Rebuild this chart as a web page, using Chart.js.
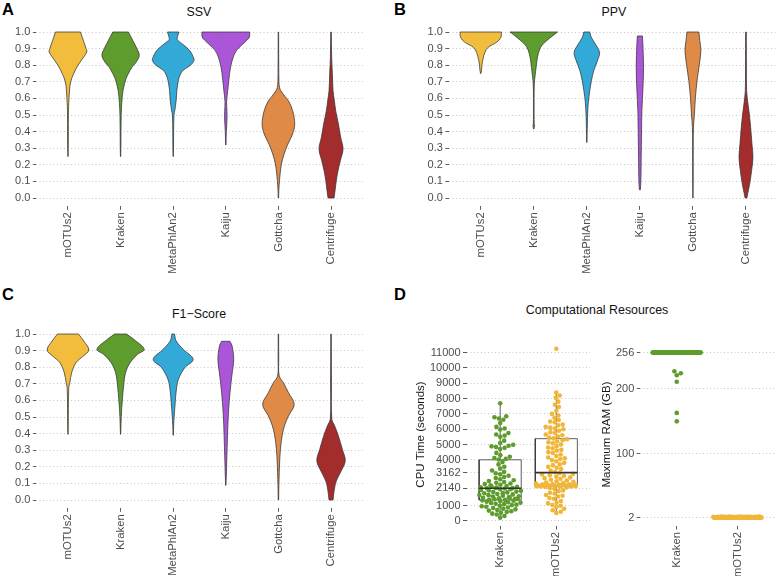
<!DOCTYPE html>
<html lang="en">
<head>
<meta charset="UTF-8" />
<title>Profiler benchmark</title>
<script src="https://cdn.jsdelivr.net/npm/chart.js"></script>
<style>
  body { margin: 0; background: #fff; font-family: "Liberation Sans", Arial, sans-serif; }
  #page { position: relative; width: 778px; height: 576px; overflow: hidden; }
  canvas { position: absolute; }
  .tag { position: absolute; font-weight: bold; font-size: 16.5px; line-height: 1; color: #000; }
  .ttl { position: absolute; font-size: 12.4px; line-height: 1; text-align: center; width: 240px; color: #111; }
</style>
</head>
<body>
<div id="page">
  <div class="tag" style="left:2px;top:1px">A</div>
  <div class="tag" style="left:394px;top:1px">B</div>
  <div class="tag" style="left:2px;top:286px">C</div>
  <div class="tag" style="left:394px;top:286px">D</div>

  <div class="ttl" style="left:79px;top:6px">SSV</div>
  <div class="ttl" style="left:494px;top:6px">PPV</div>
  <div class="ttl" style="left:79px;top:308px">F1−Score</div>
  <div class="ttl" style="left:477px;top:304px">Computational Resources</div>

  <canvas id="ssvChart" width="366" height="270" style="left:0;top:20px"></canvas>
  <canvas id="ppvChart" width="370" height="270" style="left:408px;top:20px"></canvas>
  <canvas id="f1Chart" width="366" height="254" style="left:0;top:322px"></canvas>
  <canvas id="cpuChart" width="180" height="238" style="left:414px;top:338px"></canvas>
  <canvas id="ramChart" width="178" height="238" style="left:600px;top:338px"></canvas>
</div>

<script>
  // ---- data ----
  const methods = ['mOTUs2', 'Kraken', 'MetaPhlAn2', 'Kaiju', 'Gottcha', 'Centrifuge'];
  const methodColors = ['#F2BD3D', '#5E9C2E', '#33A9D8', '#AB56D9', '#E08A48', '#A32D2D'];
  const scoreTicks = [0, 0.1, 0.2, 0.3, 0.4, 0.5, 0.6, 0.7, 0.8, 0.9, 1.0];

  // violin outlines: [score, half width of the density] from top to bottom
  const ssvProfiles = [
    [[1.0, 0.238], [0.95, 0.29], [0.90, 0.345], [0.88, 0.358], [0.85, 0.30], [0.80, 0.19], [0.75, 0.11], [0.70, 0.05], [0.65, 0.03], [0.60, 0.02], [0.55, 0.012], [0.50, 0.008], [0.40, 0.008], [0.30, 0.006], [0.25, 0.003]],
    [[1.0, 0.149], [0.95, 0.23], [0.90, 0.31], [0.86, 0.355], [0.82, 0.30], [0.79, 0.22], [0.75, 0.15], [0.72, 0.105], [0.65, 0.048], [0.57, 0.022], [0.50, 0.012], [0.40, 0.008], [0.30, 0.006], [0.25, 0.003]],
    [[1.0, 0.108], [0.975, 0.085], [0.955, 0.076], [0.93, 0.165], [0.89, 0.31], [0.85, 0.38], [0.83, 0.396], [0.80, 0.33], [0.77, 0.19], [0.74, 0.13], [0.71, 0.10], [0.65, 0.07], [0.59, 0.057], [0.53, 0.032], [0.50, 0.015], [0.40, 0.008], [0.30, 0.006], [0.25, 0.003]],
    [[1.0, 0.453], [0.97, 0.45], [0.95, 0.40], [0.92, 0.30], [0.89, 0.206], [0.85, 0.143], [0.79, 0.092], [0.71, 0.057], [0.65, 0.038], [0.58, 0.015], [0.52, 0.022], [0.47, 0.022], [0.40, 0.01], [0.32, 0.004]],
    [[1.0, 0.004], [0.80, 0.006], [0.70, 0.01], [0.667, 0.02], [0.647, 0.044], [0.61, 0.13], [0.586, 0.19], [0.526, 0.27], [0.446, 0.31], [0.386, 0.27], [0.325, 0.18], [0.265, 0.108], [0.205, 0.057], [0.145, 0.032], [0.104, 0.02], [0.05, 0.008], [0.0, 0.004]],
    [[1.0, 0.005], [0.85, 0.012], [0.75, 0.025], [0.647, 0.038], [0.586, 0.063], [0.526, 0.089], [0.446, 0.14], [0.365, 0.184], [0.295, 0.228], [0.225, 0.177], [0.165, 0.133], [0.104, 0.10], [0.044, 0.076], [0.0, 0.057]]
  ];
  const ppvProfiles = [
    [[1.0, 0.39], [0.968, 0.38], [0.938, 0.30], [0.908, 0.14], [0.877, 0.078], [0.847, 0.05], [0.807, 0.025], [0.77, 0.015], [0.75, 0.004]],
    [[1.0, 0.447], [0.978, 0.36], [0.948, 0.244], [0.908, 0.13], [0.847, 0.069], [0.787, 0.044], [0.737, 0.025], [0.687, 0.01], [0.60, 0.006], [0.50, 0.006], [0.446, 0.008], [0.436, 0.015], [0.416, 0.004]],
    [[1.0, 0.056], [0.968, 0.084], [0.928, 0.16], [0.877, 0.24], [0.827, 0.20], [0.767, 0.13], [0.707, 0.087], [0.647, 0.056], [0.576, 0.028], [0.506, 0.015], [0.42, 0.008], [0.335, 0.003]],
    [[0.976, 0.047], [0.928, 0.056], [0.787, 0.069], [0.647, 0.056], [0.526, 0.038], [0.386, 0.031], [0.245, 0.025], [0.104, 0.019], [0.05, 0.01]],
    [[1.0, 0.113], [0.948, 0.13], [0.888, 0.15], [0.807, 0.122], [0.707, 0.078], [0.606, 0.047], [0.506, 0.028], [0.426, 0.01], [0.30, 0.006], [0.10, 0.005], [0.0, 0.003]],
    [[1.0, 0.006], [0.80, 0.008], [0.647, 0.012], [0.566, 0.038], [0.506, 0.063], [0.426, 0.088], [0.325, 0.113], [0.245, 0.131], [0.165, 0.106], [0.084, 0.069], [0.024, 0.031], [0.0, 0.016]]
  ];
  const f1Profiles = [
    [[1.0, 0.2], [0.958, 0.30], [0.904, 0.396], [0.867, 0.29], [0.827, 0.152], [0.767, 0.07], [0.707, 0.035], [0.677, 0.015], [0.55, 0.008], [0.45, 0.006], [0.396, 0.003]],
    [[1.0, 0.11], [0.968, 0.25], [0.908, 0.45], [0.877, 0.32], [0.827, 0.18], [0.767, 0.095], [0.687, 0.057], [0.606, 0.035], [0.546, 0.02], [0.46, 0.008], [0.396, 0.003]],
    [[1.0, 0.025], [0.958, 0.057], [0.908, 0.19], [0.847, 0.38], [0.797, 0.22], [0.727, 0.10], [0.657, 0.057], [0.586, 0.038], [0.506, 0.019], [0.45, 0.008], [0.39, 0.003]],
    [[0.956, 0.08], [0.928, 0.12], [0.847, 0.15], [0.747, 0.114], [0.647, 0.08], [0.526, 0.05], [0.386, 0.032], [0.245, 0.019], [0.15, 0.01], [0.088, 0.003]],
    [[1.0, 0.004], [0.85, 0.006], [0.747, 0.015], [0.707, 0.095], [0.647, 0.19], [0.576, 0.30], [0.506, 0.19], [0.446, 0.114], [0.386, 0.07], [0.305, 0.038], [0.205, 0.02], [0.124, 0.012], [0.05, 0.006], [0.0, 0.004]],
    [[1.0, 0.004], [0.70, 0.008], [0.486, 0.015], [0.446, 0.07], [0.386, 0.14], [0.305, 0.215], [0.235, 0.27], [0.165, 0.177], [0.114, 0.10], [0.064, 0.063], [0.0, 0.038]]
  ];

  // computational resources
  const resourceTools = ['Kraken', 'mOTUs2'];
  const resourceColors = ['#5E9C2E', '#F0B63A'];
  const cpuTicks = [0, 1000, 2140, 3162, 4000, 5000, 6000, 7000, 8000, 9000, 10000, 11000];
  const cpuKraken = [
    7690, 6850, 6780, 6700, 6620, 6400, 6150, 6050, 5980, 5750, 5650, 5580, 5500, 5250, 5100, 4980, 4920, 4880, 4830, 4780, 4700, 4450, 4300, 4200, 4120, 4060, 4020,
    3850, 3700, 3550, 3420, 3300, 3210, 3120, 3050, 2960, 2880, 2810, 2730, 2660, 2610, 2550, 2500, 2450, 2410, 2370, 2330, 2290, 2260, 2230, 2200, 2180, 2160, 2150, 2140,
    2120, 2080, 2070, 2020, 1990, 1980, 1920, 1900, 1870, 1820, 1810, 1760, 1740, 1700, 1690, 1650, 1610, 1600, 1570, 1520, 1510, 1480, 1450, 1440, 1420, 1390, 1380,
    1350, 1320, 1300, 1260, 1230, 1200, 1180, 1130, 1100, 1070, 1040, 990, 960, 930, 880, 850, 800, 760, 720, 680, 640, 590, 540, 480, 420, 330, 220
  ];
  const cpuMotus = [
    11260, 8390, 8200, 8050, 7800, 7600, 7450, 7200, 7000, 6900, 6750, 6600, 6500, 6450, 6300, 6250, 6150, 6100, 6050, 6000, 5900, 5800, 5750, 5650, 5600, 5520, 5450, 5400,
    5350, 5280, 5200, 5150, 5080, 5000, 4900, 4800, 4750, 4650, 4600, 4500, 4450, 4350, 4250, 4150, 4100, 4050, 3980, 3900, 3800, 3700, 3650, 3550, 3480, 3400, 3300, 3200,
    3120, 3080, 3050, 2990, 2950, 2900, 2850, 2800, 2760, 2700, 2650, 2600, 2560, 2520, 2480, 2450, 2420, 2400, 2380, 2360, 2350, 2340, 2330, 2320, 2310, 2300, 2300, 2295,
    2280, 2270, 2260, 2250, 2240, 2230, 2200, 2150, 2100, 2000, 1950, 1850, 1800, 1700, 1650, 1600, 1500, 1450, 1300, 1200, 1150, 1050, 1000, 900, 800, 700, 600, 520
  ];
  const cpuQ1 = [1370, 2290];
  const cpuMedian = [2140, 3160];
  const cpuQ3 = [4000, 5380];
  const cpuLow = [220, 520];
  const cpuHigh = [7690, 8390];

  const ramTicks = [2, 100, 200, 256];
  const ramKrakenValues = [256, 227, 224, 221, 211, 163, 150];
  const ramKrakenCounts = [103, 1, 1, 1, 1, 1, 1];
  const ramMotusValues = [2, 3, 3.5];
  const ramMotusCounts = [92, 14, 4];

  // ---- common styling ----
  Chart.defaults.font.family = '"Liberation Sans", Arial, sans-serif';
  Chart.defaults.animation = false;

  const tickColor = '#4d4d4d';

  function yAxis(min, max, ticks, fmt, width, title) {
    return {
      type: 'linear', min: min, max: max,
      afterBuildTicks: s => { s.ticks = ticks.map(v => ({ value: v })); },
      afterFit: s => { s.width = width; s.paddingTop = 0; s.paddingBottom = 0; },
      ticks: { callback: fmt, color: tickColor, font: { size: 11 }, padding: 2.5, autoSkip: false },
      grid: { color: '#b8b8b8', lineWidth: 0.8, tickColor: '#333', tickLength: 3.5, tickWidth: 0.8 },
      border: { display: false, dash: [1, 2.5] },
      title: title ? { display: true, text: title, color: '#1a1a1a', font: { size: 11.5 }, padding: 0 } : { display: false }
    };
  }

  function xAxis(labels, height) {
    return {
      type: 'linear', min: -0.6, max: labels.length - 0.4,
      afterBuildTicks: s => { s.ticks = labels.map((l, i) => ({ value: i })); },
      afterFit: s => { s.height = height; s.paddingLeft = 0; s.paddingRight = 0; },
      ticks: { callback: v => labels[v], color: tickColor, font: { size: 11.3 }, minRotation: 90, maxRotation: 90, autoSkip: false, padding: 2.5 },
      grid: { drawOnChartArea: false, tickColor: '#333', tickLength: 3.5, tickWidth: 0.8 },
      border: { display: false }
    };
  }

  function baseOptions(padding, scales) {
    return {
      responsive: false,
      events: [],
      layout: { padding: padding },
      plugins: { legend: { display: false }, tooltip: { enabled: false } },
      scales: scales
    };
  }

  // closed outline of a violin around category centre
  function violinPoints(profile, center) {
    const right = profile.map(p => ({ x: center + p[1], y: p[0] }));
    const left = profile.map(p => ({ x: center - p[1], y: p[0] })).reverse();
    // corner points doubled so trimmed ends stay square
    return [right[0], ...right, right[right.length - 1], left[0], ...left, left[left.length - 1], right[0]];
  }

  function violinChart(id, profiles, padding, xHeight) {
    const datasets = profiles.map((prof, i) => ({
      data: violinPoints(prof, i),
      fill: 'shape',
      backgroundColor: methodColors[i],
      borderColor: '#333333',
      borderWidth: 0.75,
      pointRadius: 0,
      tension: 0.35
    }));
    return new Chart(document.getElementById(id), {
      type: 'line',
      data: { datasets: datasets },
      options: baseOptions(padding, {
        x: xAxis(methods, xHeight),
        y: yAxis(-0.05, 1.05, scoreTicks, v => v.toFixed(1), padding.yWidth)
      })
    });
  }

  violinChart('ssvChart', ssvProfiles, { left: 0, top: 3.7, right: 3.4, bottom: 0, yWidth: 36.4 }, 83.7);
  violinChart('ppvChart', ppvProfiles, { left: 0, top: 3.7, right: 0.2, bottom: 0, yWidth: 40.9 }, 83.7);
  violinChart('f1Chart', f1Profiles, { left: 0, top: 3.7, right: 3.4, bottom: 0, yWidth: 36.4 }, 67.7);

  // ---- beeswarm layout (pixel space, then back to category units) ----
  function swarmOffsets(values, pxPerY, pxPerX, diameter, maxHalf) {
    const order = values.map((v, i) => i).sort((a, b) => values[a] - values[b]);
    const placed = [];
    const offsets = new Array(values.length).fill(0);
    let overflow = 0;
    order.forEach(idx => {
      const y = values[idx] * pxPerY;
      const near = placed.filter(p => Math.abs(p.y - y) < diameter);
      const cands = [0];
      near.forEach(p => {
        const dx = Math.sqrt(diameter * diameter - (p.y - y) * (p.y - y));
        cands.push(p.x + dx, p.x - dx);
      });
      cands.sort((a, b) => Math.abs(a) - Math.abs(b));
      let x = cands.find(c => near.every(p => (p.x - c) ** 2 + (p.y - y) ** 2 >= diameter * diameter - 0.01));
      if (x === undefined || Math.abs(x) > maxHalf) {
        overflow++;
        x = ((overflow * 0.618034) % 1 * 2 - 1) * maxHalf;
      }
      placed.push({ x: x, y: y });
      offsets[idx] = x / pxPerX;
    });
    return offsets;
  }

  function expand(values, counts) {
    const out = [];
    values.forEach((v, i) => { for (let k = 0; k < counts[i]; k++) out.push(v); });
    return out;
  }

  function swarmDataset(values, center, color, pxPerY, pxPerX, maxHalf) {
    const offs = swarmOffsets(values, pxPerY, pxPerX, 4.6, maxHalf);
    return {
      type: 'scatter',
      data: values.map((v, i) => ({ x: center + offs[i], y: v })),
      pointRadius: 2.3,
      pointBackgroundColor: color,
      pointBorderWidth: 0,
      order: 1
    };
  }

  // CPU time with boxplots
  const boxHalf = 0.375;
  const cpuSets = [];
  resourceTools.forEach((t, i) => {
    cpuSets.push({
      data: [{ x: i, y: cpuLow[i] }, { x: i, y: cpuHigh[i] }],
      borderColor: '#333', borderWidth: 0.8, pointRadius: 0, order: 4
    });
    cpuSets.push({
      data: [
        { x: i - boxHalf, y: cpuQ1[i] }, { x: i + boxHalf, y: cpuQ1[i] },
        { x: i + boxHalf, y: cpuQ3[i] }, { x: i - boxHalf, y: cpuQ3[i] }, { x: i - boxHalf, y: cpuQ1[i] }
      ],
      fill: 'shape', backgroundColor: '#ffffff', borderColor: '#333', borderWidth: 0.8, pointRadius: 0, order: 3
    });
    cpuSets.push({
      data: [{ x: i - boxHalf, y: cpuMedian[i] }, { x: i + boxHalf, y: cpuMedian[i] }],
      borderColor: '#333', borderWidth: 1.6, pointRadius: 0, order: 0
    });
  });
  cpuSets.push(swarmDataset(cpuKraken, 0, resourceColors[0], 0.01531, 56.3, 21));
  cpuSets.push(swarmDataset(cpuMotus, 1, resourceColors[1], 0.01531, 56.3, 22));

  new Chart(document.getElementById('cpuChart'), {
    type: 'line',
    data: { datasets: cpuSets },
    options: baseOptions({ left: 0, top: 5, right: 3.5, bottom: 0 }, {
      x: xAxis(resourceTools, 50),
      y: yAxis(-327, 11634, cpuTicks, v => String(v), 52.5, 'CPU Time (seconds)')
    })
  });

  // maximum RAM
  new Chart(document.getElementById('ramChart'), {
    type: 'line',
    data: {
      datasets: [
        swarmDataset(expand(ramKrakenValues, ramKrakenCounts), 0, resourceColors[0], 0.6512, 62.3, 25),
        swarmDataset(expand(ramMotusValues, ramMotusCounts), 1, resourceColors[1], 0.6512, 62.3, 25)
      ]
    },
    options: baseOptions({ left: 0, top: 5, right: 0.6, bottom: 0 }, {
      x: xAxis(resourceTools, 50),
      y: yAxis(-11.05, 270.6, ramTicks, v => String(v), 40.3, 'Maximum RAM (GB)')
    })
  });
</script>
</body>
</html>
